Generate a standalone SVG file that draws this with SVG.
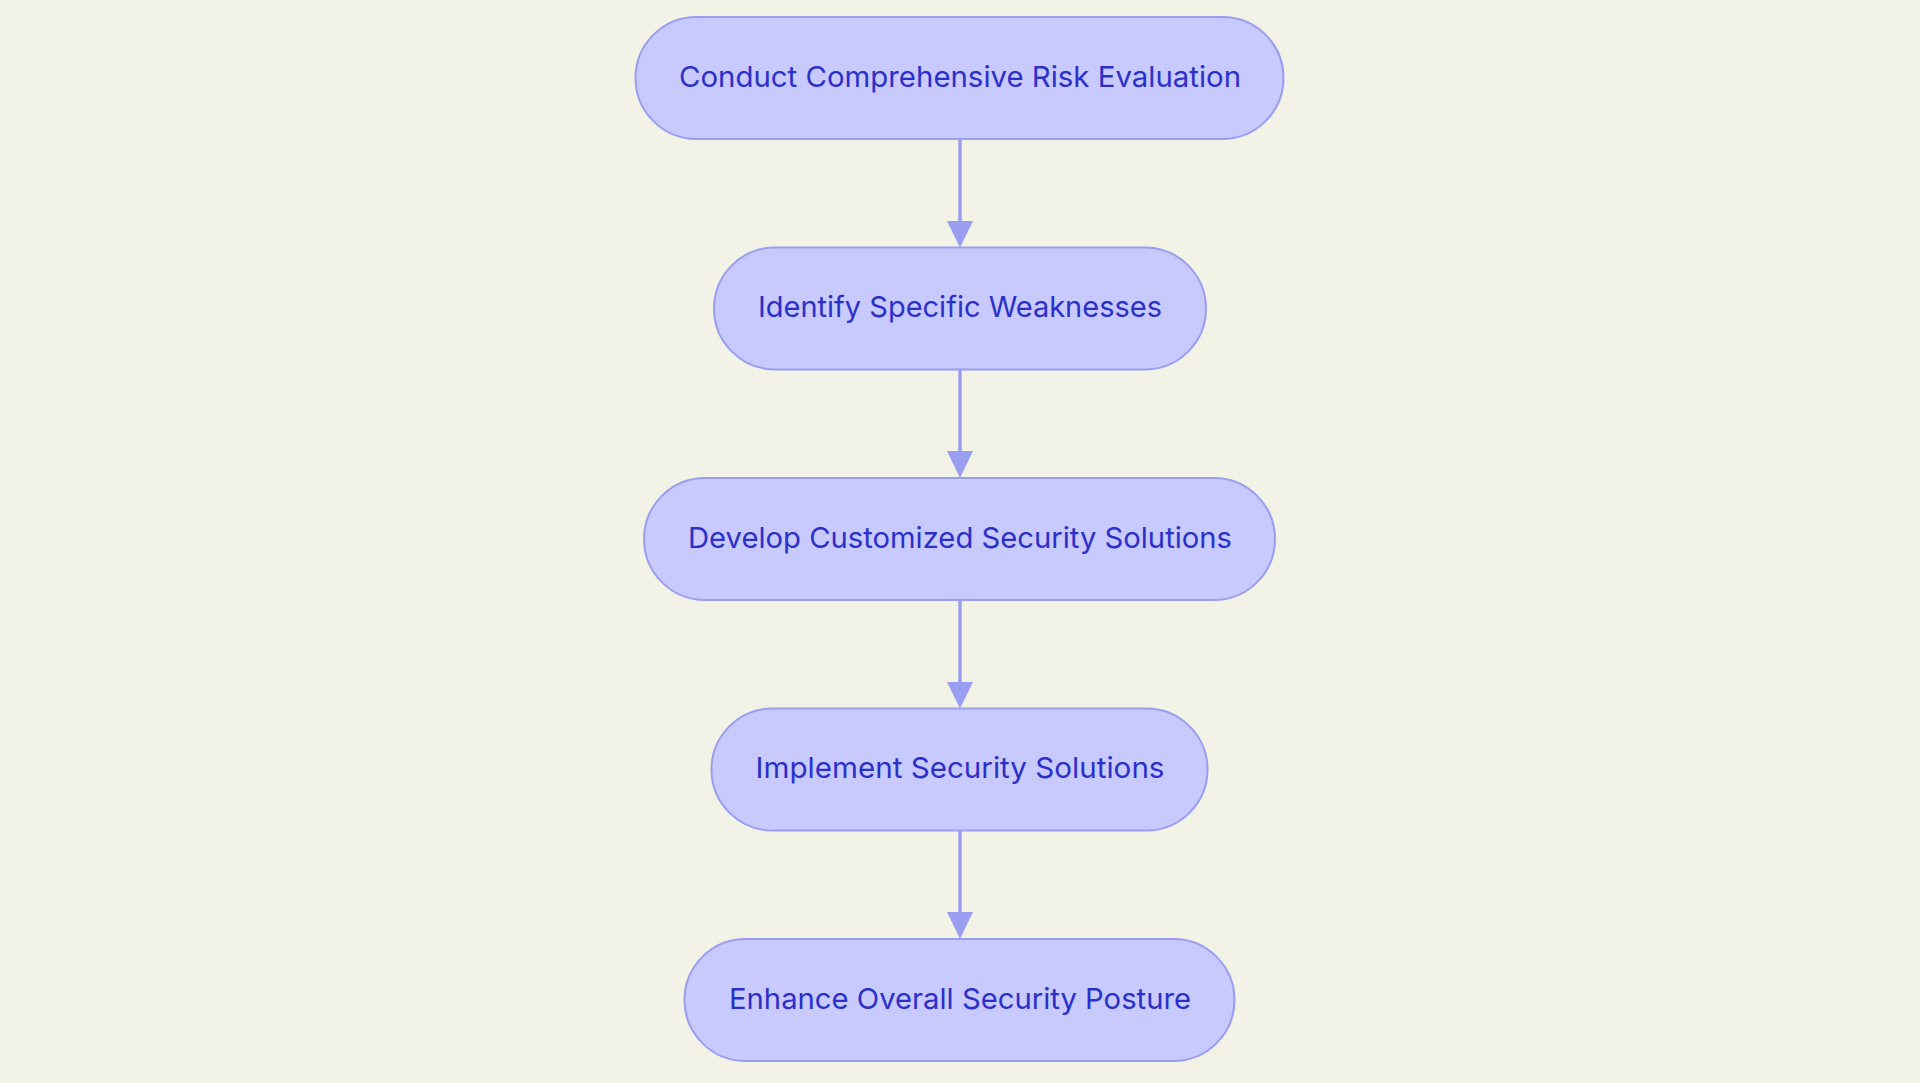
<svg xmlns="http://www.w3.org/2000/svg" width="1920" height="1083" viewBox="0 0 1920 1083">
<style>
.node rect{fill:#c8c9fc;stroke:#9a9ef0;stroke-width:2}
.node text{font-family:Inter,"Noto Sans","Liberation Sans",sans-serif;font-size:29px;fill:#2b30c9;text-anchor:middle}
.edge{stroke:#9a9ef0;stroke-width:3.5;fill:none}
.head{fill:#9a9ef0}
</style>
<rect width="1920" height="1083" fill="#f2f2e6"/>
<g id="edges">
<path class="edge" d="M960 139 L960 222" />
<path class="head" d="M947 221 L973 221 L960 247.5 Z"/>
<path class="edge" d="M960 369.5 L960 452" />
<path class="head" d="M947 451 L973 451 L960 478 Z"/>
<path class="edge" d="M960 600 L960 683" />
<path class="head" d="M947 682 L973 682 L960 708.5 Z"/>
<path class="edge" d="M960 830.5 L960 913" />
<path class="head" d="M947 912 L973 912 L960 939 Z"/>
</g>
<g id="node1" class="node"><rect x="635.5" y="17" width="648" height="122" rx="61"/><text x="960" y="86.5" textLength="562" lengthAdjust="spacingAndGlyphs">Conduct Comprehensive Risk Evaluation</text></g>
<g id="node2" class="node"><rect x="714" y="247.5" width="492" height="122" rx="61"/><text x="960" y="317" textLength="404" lengthAdjust="spacingAndGlyphs">Identify Specific Weaknesses</text></g>
<g id="node3" class="node"><rect x="644" y="478" width="631" height="122" rx="61"/><text x="960" y="547.5" textLength="544" lengthAdjust="spacingAndGlyphs">Develop Customized Security Solutions</text></g>
<g id="node4" class="node"><rect x="711.5" y="708.5" width="496" height="122" rx="61"/><text x="960" y="778" textLength="409" lengthAdjust="spacingAndGlyphs">Implement Security Solutions</text></g>
<g id="node5" class="node"><rect x="684.5" y="939" width="550" height="122" rx="61"/><text x="960" y="1008.5" textLength="462" lengthAdjust="spacingAndGlyphs">Enhance Overall Security Posture</text></g>
</svg>
